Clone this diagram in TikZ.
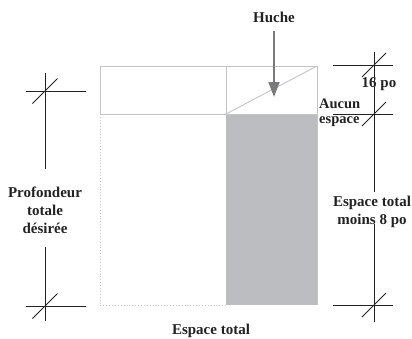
\documentclass[tikz,border=0pt]{standalone}
\usepackage{fontspec}
\setmainfont{Liberation Serif}
\usetikzlibrary{arrows.meta}
\definecolor{fillgray}{HTML}{BCBDC0}
\definecolor{framegray}{HTML}{C4C4C4}
\definecolor{arrowgray}{HTML}{7A7A7C}
\definecolor{dimcol}{HTML}{222222}
\begin{document}
\begin{tikzpicture}[x=1pt,y=-1pt,
  lbl/.style={font=\bfseries\fontsize{15}{18}\selectfont, align=center, inner sep=0pt, text=dimcol},
  dimline/.style={draw=dimcol, line width=1pt},
  frameline/.style={draw=framegray, line width=0.9pt},
  dotline/.style={draw=framegray, line width=0.9pt, dotted}]
\useasboundingbox (0,0) rectangle (412,338);
% shaded area
\fill[fillgray] (226,114) rectangle (317,305);
% frame
\draw[frameline] (100,66) rectangle (317,114);
\draw[frameline] (226,66) -- (226,114);
\draw[frameline] (226,114) -- (317,66);
\draw[frameline] (317,114) -- (317,305);
\draw[dotline] (100,114) -- (100,305) -- (226,305);
% labels
\node[lbl] (huche) at (274,17) {Huche};
\node[lbl] (sixteen) at (379,84) {16 po};
\node[lbl, anchor=west, font=\bfseries\fontsize{14.5}{14.5}\selectfont, align=left] (aucun) at (319,113) {Aucun\\espace};
\node[lbl] (moins) at (372,212) {Espace total\\moins 8 po};
\node[lbl] (prof) at (45,210) {Profondeur\\totale\\désirée};
\node[lbl] (total) at (211,331) {Espace total};
% arrow
\coordinate (tip) at (274,97);
\draw[draw=arrowgray, fill=arrowgray, line width=1.8pt, shorten <=9pt,
  -{Triangle[width=11pt,length=15pt]}] (huche) -- (tip);
% left dimension
\coordinate (L1) at (45,91);
\coordinate (L2) at (45,306);
\draw[dimline] (45,73) -- (45,169);
\draw[dimline] (45,247) -- (45,321);
\foreach \p in {L1,L2}{
  \draw[dimline] ([xshift=-19pt]\p) -- ([xshift=41pt]\p);
  \draw[dimline] ([shift={(-12.5,12.5)}]\p) -- ([shift={(12.5,-12.5)}]\p);
}
% right dimension
\coordinate (R1) at (374,65);
\coordinate (R2) at (374,114);
\coordinate (R3) at (374,305);
\draw[dimline] (374,52) -- (374,192);
\draw[dimline] (374,224) -- (374,322);
\foreach \p in {R1,R2,R3}{
  \draw[dimline] ([xshift=-41pt]\p) -- ([xshift=19pt]\p);
  \draw[dimline] ([shift={(-12,12)}]\p) -- ([shift={(12,-12)}]\p);
}
\end{tikzpicture}
\end{document}
